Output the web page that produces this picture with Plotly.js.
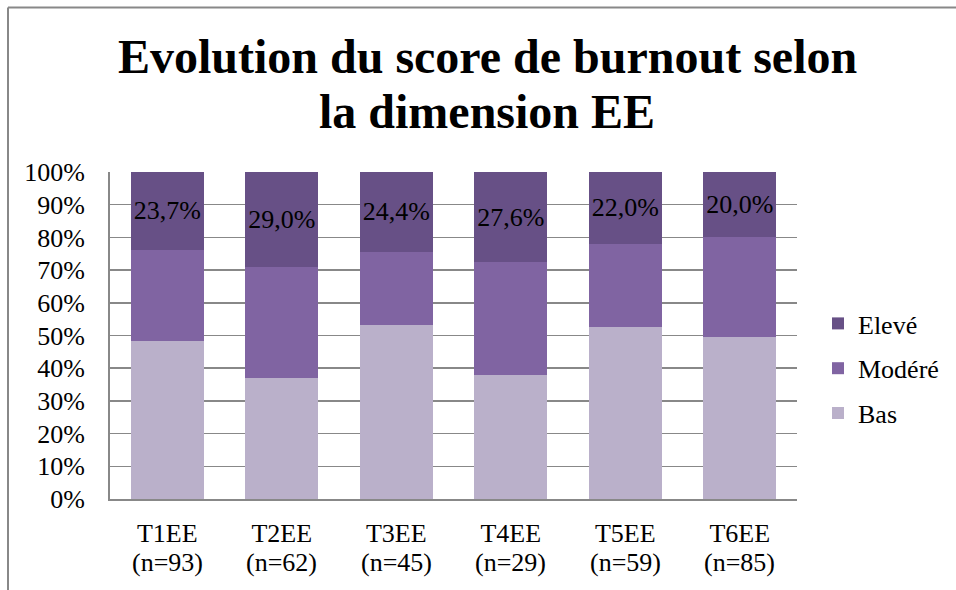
<!DOCTYPE html>
<html>
<head>
<meta charset="utf-8">
<script src="https://cdn.plot.ly/plotly-3.0.1.min.js"></script>
<style>
html, body { margin: 0; padding: 0; background: #fff; }
#chart { width: 956px; height: 590px; }
</style>
</head>
<body>
<div id="chart"></div>
<script>
// Data
const categories = ['T1EE', 'T2EE', 'T3EE', 'T4EE', 'T5EE', 'T6EE'];
const sampleSizes = [93, 62, 45, 29, 59, 85];
const bas    = [48.4, 37.1, 53.3, 37.9, 52.5, 49.4];
const modere = [27.9, 33.9, 22.3, 34.5, 25.5, 30.6];
const eleve  = [23.7, 29.0, 24.4, 27.6, 22.0, 20.0];
const seriesNames = ['Bas', 'Modéré', 'Elevé'];
const titleLines = ['Evolution du score de burnout selon', 'la dimension EE'];

const FONT = 'Times New Roman, Liberation Serif, DejaVu Serif, serif';
const colors = ['#BAB0CA', '#8064A2', '#675086'];

const fmt = v => v.toFixed(1).replace('.', ',') + '%';

const W = 956, H = 590;
const M = { l: 110, r: 159, t: 172, b: 91 };
const pw = W - M.l - M.r, ph = H - M.t - M.b;
const px2x = p => (p - M.l) / pw;
const py2y = p => (H - M.b - p) / ph;

const FS = 26;

const traces = [bas, modere, eleve].map((vals, i) => ({
  type: 'bar',
  name: seriesNames[i],
  x: categories,
  y: vals,
  marker: { color: colors[i], line: { width: 0 } },
  legendgroup: 'g' + i,
  legendrank: 3 - i,
  text: i === 2 ? vals.map(fmt) : undefined,
  textposition: i === 2 ? 'inside' : 'none',
  insidetextanchor: 'middle',
  textangle: 0,
  textfont: { family: FONT, size: FS, color: '#000' },
  hoverinfo: 'x+y+name'
}));

// second line of each category label: sample size
const nAnnotations = categories.map((c, i) => ({
  text: '(n=' + sampleSizes[i] + ')',
  xref: 'x', x: c, xanchor: 'center',
  yref: 'paper', y: py2y(562), yanchor: 'middle',
  showarrow: false,
  font: { family: FONT, size: FS, color: '#000' }
}));

const layout = {
  width: W, height: H,
  margin: M,
  paper_bgcolor: '#fff',
  plot_bgcolor: '#fff',
  barmode: 'stack',
  bargap: 0.36,
  font: { family: FONT, size: FS, color: '#000' },
  title: {
    text: titleLines[0],
    font: { family: FONT, size: 48, weight: 'bold', color: '#000' },
    xref: 'container', x: 0.51, xanchor: 'center',
    yref: 'container', y: 1 - 73 / H, yanchor: 'bottom',
    pad: { b: 0, t: 0 }
  },
  annotations: [{
    text: titleLines[1],
    font: { family: FONT, size: 48, weight: 'bold', color: '#000' },
    xref: 'paper', x: px2x(487), xanchor: 'center',
    yref: 'paper', y: py2y(128), yanchor: 'bottom',
    yshift: -12,
    showarrow: false
  }].concat(nAnnotations),
  xaxis: {
    type: 'category',
    showgrid: false,
    showline: true, linecolor: '#888', linewidth: 2,
    ticks: '',
    ticklabelstandoff: 10,
    tickfont: { family: FONT, size: FS, color: '#000' },
    fixedrange: true
  },
  yaxis: {
    range: [0, 100],
    dtick: 10,
    ticksuffix: '%',
    showgrid: true, gridcolor: '#888', gridwidth: 1.5,
    showline: true, linecolor: '#888', linewidth: 2,
    zeroline: false,
    ticks: '',
    ticklabelstandoff: 18,
    tickfont: { family: FONT, size: FS, color: '#000' },
    fixedrange: true
  },
  legend: {
    traceorder: 'grouped',
    tracegroupgap: 8,
    x: px2x(818), xanchor: 'left',
    y: py2y(300), yanchor: 'top',
    font: { family: FONT, size: FS, color: '#000' },
    bgcolor: 'rgba(0,0,0,0)'
  },
  shapes: [
    { type: 'line', xref: 'paper', yref: 'paper',
      x0: px2x(8), x1: px2x(W + 5), y0: py2y(7.5), y1: py2y(7.5),
      line: { color: '#888', width: 2 } },
    { type: 'line', xref: 'paper', yref: 'paper',
      x0: px2x(8), x1: px2x(8), y0: py2y(7.5), y1: py2y(H + 5),
      line: { color: '#888', width: 2 } }
  ],
  showlegend: true
};

Plotly.newPlot('chart', traces, layout, { displayModeBar: false, staticPlot: true });
</script>
</body>
</html>
